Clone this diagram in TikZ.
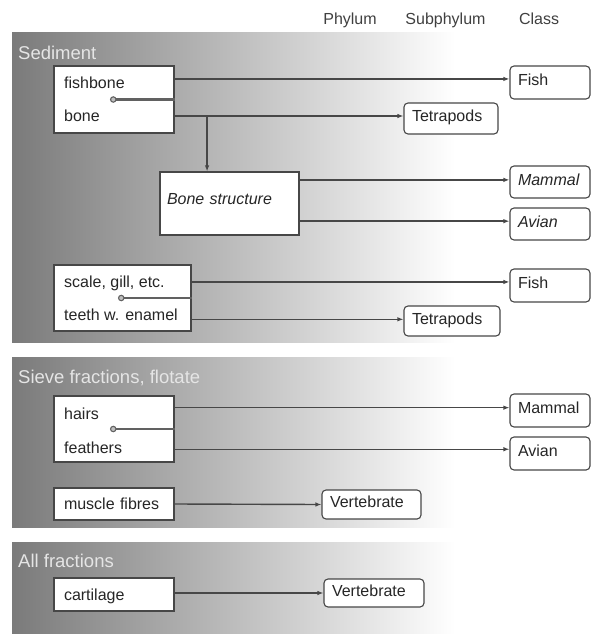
\documentclass[tikz,border=0pt]{standalone}
\usepackage{fontspec}
\setmainfont{Liberation Sans}
\usetikzlibrary{arrows.meta}

\begin{document}
\begin{tikzpicture}[x=1pt,y=-1pt,
  panel/.style={left color=black!52, right color=white},
  paneltitle/.style={anchor=west, inner sep=0, text=black!10, font=\fontsize{18.5pt}{22pt}\selectfont, text height=13.2pt, text depth=0pt},
  head/.style={inner sep=0, text=black!75, font=\fontsize{16pt}{19pt}\selectfont, text height=11.5pt, text depth=0pt},
  srcbox/.style={draw=black!72, line width=1.1pt, fill=white, inner sep=0pt, align=left, text=black!85, font=\fontsize{16pt}{19pt}\selectfont, text height=11.5pt, text depth=0pt},
  item/.style={anchor=west, inner sep=0, text=black!85, font=\fontsize{16pt}{19pt}\selectfont, text height=11.5pt, text depth=0pt},
  taxbox/.style={draw=black!72, line width=1.1pt, fill=white, rounded corners=4pt, inner xsep=8pt, inner ysep=0pt, align=left, text=black!85, font=\fontsize{16pt}{19pt}\selectfont, text height=11.5pt, text depth=5.5pt},
  arr/.style={draw=black!72, line width=1.4pt, -{Latex[length=6pt,width=4.5pt]}},
  cut/.style={draw=black!62, line width=2.2pt, -{Circle[length=6.5pt,fill=black!25,line width=1.1pt]}}
]
\fill[white] (0,0) rectangle (592,634);
\useasboundingbox (0,0) rectangle (592,634);

%column heads
\node[head] (phylum) at (350,19) {Phylum};
\node[head] (subphylum) at (445.5,19) {Subphylum};
\node[head] (class) at (539,19) {Class};

%Sediment
\shade[panel] (12,33) rectangle (455,342);
\node[paneltitle] (sedtitle) at (18,53) {Sediment};

\node[srcbox, minimum width=120pt, minimum height=67pt] (sedA) at (114,99.5) {};
\node[item] (fishbone) at (64,83) {fishbone};
\node[item] (bone) at (64,116) {bone};
\coordinate (sedAcut) at (110,99.5);

\node[srcbox, text width=125pt, inner xsep=7pt, minimum height=63pt, text depth=9pt, font=\fontsize{16pt}{19pt}\selectfont\itshape] (bstruct) at (229.5,203.5) {Bone structure};

\node[srcbox, minimum width=137pt, minimum height=66pt] (sedB) at (122.5,298) {};
\node[item] (scale) at (64,281.5) {scale, gill, etc.};
\node[item] (teeth) at (64,315) {teeth w. enamel};
\coordinate (sedBcut) at (118,298);

\node[taxbox, text width=64pt, minimum height=33pt] (fishA) at (550,82.5) {Fish};
\node[taxbox, text width=78pt, minimum height=31pt] (tetraA) at (451,118.5) {Tetrapods};
\node[taxbox, text width=64pt, minimum height=32pt] (mammalA) at (550,182) {\textit{Mammal}};
\node[taxbox, text width=64pt, minimum height=32pt] (avianA) at (550,224) {\textit{Avian}};
\node[taxbox, text width=64pt, minimum height=33pt] (fishB) at (550,285.5) {Fish};
\node[taxbox, text width=80pt, minimum height=30pt] (tetraB) at (452,321) {Tetrapods};

\draw[cut] (sedA.east) -- (sedAcut);
\draw[cut] (sedB.east) -- (sedBcut);
\draw[arr] (fishA.175 -| sedA.east) -- (fishA.175);
\draw[arr] (tetraA.177 -| sedA.east) -- (tetraA.177);
\draw[arr] (bstruct.125 |- tetraA.177) -- (bstruct.125);
\draw[arr] (mammalA.177 -| bstruct.east) -- (mammalA.177);
\draw[arr] (avianA.176 -| bstruct.east) -- (avianA.176);
\draw[arr] (fishB.175 -| sedB.east) -- (fishB.175);
\draw[arr] (tetraB.178 -| sedB.east) -- (tetraB.178);

%Sieve fractions
\shade[panel] (12,357) rectangle (455,527);
\node[paneltitle] (sievetitle) at (18,376.5) {Sieve fractions, flotate};

\node[srcbox, minimum width=120pt, minimum height=66pt] (sieveA) at (114,429) {};
\node[item] (hairs) at (64,413.5) {hairs};
\node[item] (feathers) at (64,448) {feathers};
\coordinate (sieveAcut) at (110,429);
\node[srcbox, text width=100pt, inner xsep=10pt, minimum height=32pt] (muscle) at (114,504) {muscle fibres};

\node[taxbox, text width=64pt, minimum height=33pt] (mammalB) at (550,410.5) {Mammal};
\node[taxbox, text width=64pt, minimum height=33pt] (avianB) at (550,453.5) {Avian};
\node[taxbox, text width=83pt, minimum height=29pt] (vertA) at (371.5,504.5) {Vertebrate};

\draw[cut] (sieveA.east) -- (sieveAcut);
\draw[arr] (mammalB.176 -| sieveA.east) -- (mammalB.176);
\draw[arr] (avianB.174 -| sieveA.east) -- (avianB.174);
\draw[arr] (muscle.east) -- (vertA.west);

%All fractions
\shade[panel] (12,542) rectangle (455,634);
\node[paneltitle] (alltitle) at (18,560.5) {All fractions};

\node[srcbox, text width=100pt, inner xsep=10pt, minimum height=33pt] (cartilage) at (114,594.5) {cartilage};
\node[taxbox, text width=84pt, minimum height=28pt] (vertB) at (374,593) {Vertebrate};
\draw[arr] (vertB.west -| cartilage.east) -- (vertB.west);
\end{tikzpicture}
\end{document}
